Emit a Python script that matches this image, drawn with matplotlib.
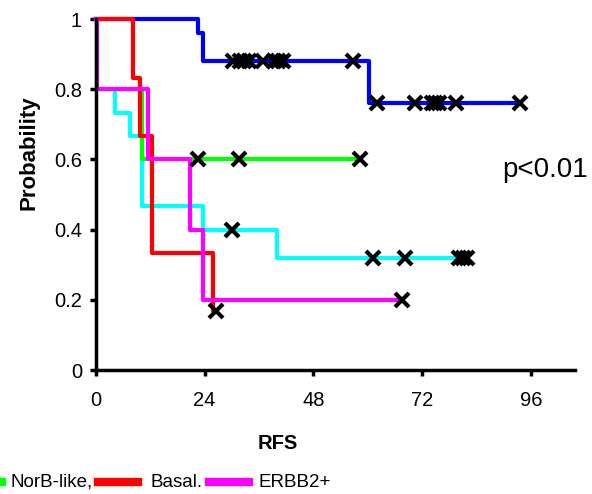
import numpy as np
import matplotlib
matplotlib.use("Agg")
import matplotlib.pyplot as plt
from matplotlib.lines import Line2D

plt.rcParams['font.family'] = ['Liberation Sans', 'DejaVu Sans']

# Kaplan-Meier steps: event times and survival after each event
blue_t = [0, 22.5, 23.6, 60.3]
blue_s = [1.0, 0.96, 0.88, 0.76]
blue_end = 93.6
blue_cens = [30.3, 31.8, 32.7, 33.8, 36.9, 39.4, 40.2, 41.2, 56.7,
             62.0, 70.4, 74.2, 74.8, 75.7, 79.5, 93.6]

cyan_t = [0, 0.3, 4.2, 7.5, 10.1, 23.6, 40.0]
cyan_s = [1.0, 0.8, 0.733, 0.667, 0.467, 0.4, 0.32]
cyan_end = 82.0
cyan_cens = [30.0, 61.1, 68.2, 80.1, 81.0, 81.9]

green_t = [0, 0.3, 10.2]
green_s = [1.0, 0.8, 0.6]
green_end = 58.3
green_cens = [22.5, 31.6, 58.3]

red_t = [0, 8.2, 9.7, 12.3, 25.8]
red_s = [1.0, 0.833, 0.667, 0.333, 0.167]
red_end = 26.5
red_cens = [26.5]

mag_t = [0, 0.3, 11.5, 20.8, 23.6]
mag_s = [1.0, 0.8, 0.6, 0.4, 0.2]
mag_end = 67.5
mag_cens = [67.5]

groups = [
    (blue_t, blue_s, blue_end, blue_cens, '#0000ff'),
    (cyan_t, cyan_s, cyan_end, cyan_cens, '#00ffff'),
    (green_t, green_s, green_end, green_cens, '#00ff00'),
    (red_t, red_s, red_end, red_cens, '#ff0000'),
    (mag_t, mag_s, mag_end, mag_cens, '#ff00ff'),
]

fig = plt.figure(figsize=(5.92, 4.94), dpi=100)
ax = fig.add_axes([0.162, 0.251, 0.809, 0.7105])

for t, s, end, cens, col in groups:
    tt = list(t) + [end]
    ss = list(s) + [s[-1]]
    ax.step(tt, ss, where='post', color=col, lw=3, clip_on=False, zorder=2)

for t, s, end, cens, col in groups:
    idx = np.searchsorted(t, cens, side='right') - 1
    cy = np.array(s)[idx]
    ax.plot(cens, cy, ls='none', marker='x', ms=9.5, mew=3, color='black',
            clip_on=False, zorder=5)

ax.set_xlim(0, 105.7)
ax.set_ylim(0, 1)
ax.set_xticks([0, 24, 48, 72, 96])
ax.set_yticks([0, 0.2, 0.4, 0.6, 0.8, 1])
ax.set_yticklabels(['0', '0.2', '0.4', '0.6', '0.8', '1'])
for sp in ['top', 'right']:
    ax.spines[sp].set_visible(False)
for sp in ['left', 'bottom']:
    ax.spines[sp].set_linewidth(2.5)
ax.tick_params(direction='out', length=4, width=2.5, labelsize=14.5)
ax.tick_params(axis='x', pad=11)
ax.tick_params(axis='y', pad=6)
ax.set_xlabel('RFS', fontsize=14.5, fontweight='bold')
ax.set_ylabel('Probability', fontsize=16, fontweight='bold')
ax.xaxis.set_label_coords(0.38, -0.182)
ax.yaxis.set_label_coords(-0.118, 0.618)

ax.text(89.6, 0.551, 'p<0.01', fontsize=20, ha='left', va='baseline')

# legend strip along the bottom (cut at the left edge)
ly = 1 - 482 / 494
fig.add_artist(Line2D([-0.02, 2 / 592], [ly, ly], color='#00ff00', lw=6))
fig.text(10 / 592, ly, 'NorB-like,', fontsize=13.5, va='center')
fig.add_artist(Line2D([98 / 592, 138 / 592], [ly, ly], color='#ff0000', lw=6))
fig.text(150 / 592, ly, 'Basal.', fontsize=13.5, va='center')
fig.add_artist(Line2D([209 / 592, 249 / 592], [ly, ly], color='#ff00ff', lw=6))
fig.text(258 / 592, ly, 'ERBB2+', fontsize=13.5, va='center')

fig.savefig('out.png', dpi=100)
